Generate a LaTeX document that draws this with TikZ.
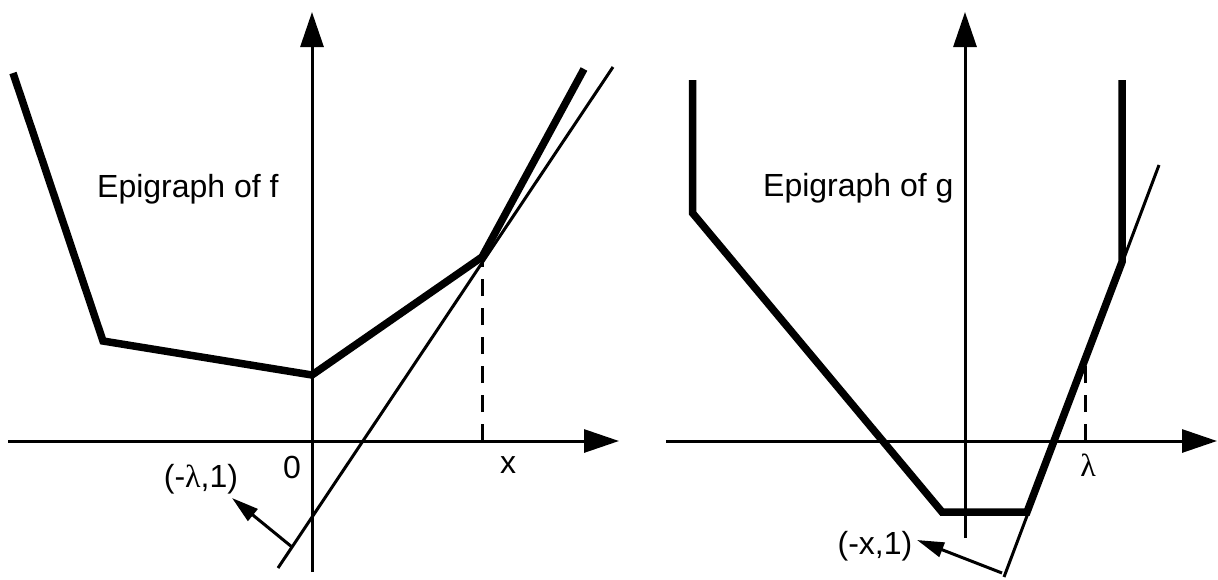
\documentclass[tikz,border=0pt]{standalone}
\usepackage{fontspec}
\setmainfont{Liberation Sans}
\newfontfamily\lamfont{Liberation Serif}
\usetikzlibrary{arrows.meta}
\begin{document}
\begin{tikzpicture}[x=1pt,y=-1pt,
  axis/.style={line width=3pt,-{Triangle[length=35pt,width=23pt]}},
  graphline/.style={line width=7.5pt,line join=miter},
  tangent/.style={line width=3pt},
  guide/.style={line width=3pt,dash pattern=on 17pt off 12pt},
  normalvec/.style={line width=3pt,-{Triangle[length=27pt,width=15pt]}},
  lbl/.style={font=\fontsize{32}{38}\selectfont,inner sep=0pt}]
\useasboundingbox (0,0) rectangle (1218,579);
% ---------- left panel ----------
\coordinate (Lyb) at (312,572);
\coordinate (Lyt) at (312,12);
\coordinate (Lxl) at (8,441);
\coordinate (Lxr) at (619,441);
\coordinate (Lf1) at (13,73);
\coordinate (Lf2) at (103,341);
\coordinate (Lf3) at (312,375);
\coordinate (Lf4) at (482,257);
\coordinate (Lf5) at (584,69);
\coordinate (Lt1) at (278,568);
\coordinate (Lt2) at (613,67);
\coordinate (Ld) at (482,441);
\coordinate (Lv1) at (292,547);
\coordinate (Lv2) at (232,498);
\draw[axis] (Lyb) -- (Lyt);
\draw[axis] (Lxl) -- (Lxr);
\draw[graphline] (Lf1) -- (Lf2) -- (Lf3) -- (Lf4) -- (Lf5);
\draw[tangent] (Lt1) -- (Lt2);
\draw[guide] (Ld) -- (Lf4);
\draw[normalvec] (Lv1) -- (Lv2);
\node[lbl,anchor=base west] (epif) at (97,197) {Epigraph of f};
\node[lbl] (zero) at (292,467) {0};
\node[lbl] (xlab) at (508,465) {x};
\node[lbl] (nvl) at (201,479) {(-{\lamfont λ},1)};
% ---------- right panel ----------
\coordinate (Ryb) at (965,538);
\coordinate (Ryt) at (965,12);
\coordinate (Rxl) at (666,441);
\coordinate (Rxr) at (1217,441);
\coordinate (Rg1) at (692.5,80);
\coordinate (Rg2) at (692.5,213);
\coordinate (Rg3) at (942,512);
\coordinate (Rg4) at (1027,512);
\coordinate (Rg5) at (1122,262);
\coordinate (Rg6) at (1122,80);
\coordinate (Rt1) at (1004,577);
\coordinate (Rt2) at (1159,165);
\coordinate (Rd1) at (1085,363);
\coordinate (Rd2) at (1085,441);
\coordinate (Rv1) at (1002,573);
\coordinate (Rv2) at (917,540);
\draw[axis] (Ryb) -- (Ryt);
\draw[axis] (Rxl) -- (Rxr);
\draw[graphline] (Rg1) -- (Rg2) -- (Rg3) -- (Rg4) -- (Rg5) -- (Rg6);
\draw[tangent] (Rt1) -- (Rt2);
\draw[guide] (Rd2) -- (Rd1);
\draw[normalvec] (Rv1) -- (Rv2);
\node[lbl,anchor=base west] (epig) at (763,196) {Epigraph of g};
\node[lbl] (lam) at (1088,465) {\lamfont λ};
\node[lbl] (nvr) at (875,546) {(-x,1)};
\end{tikzpicture}
\end{document}
